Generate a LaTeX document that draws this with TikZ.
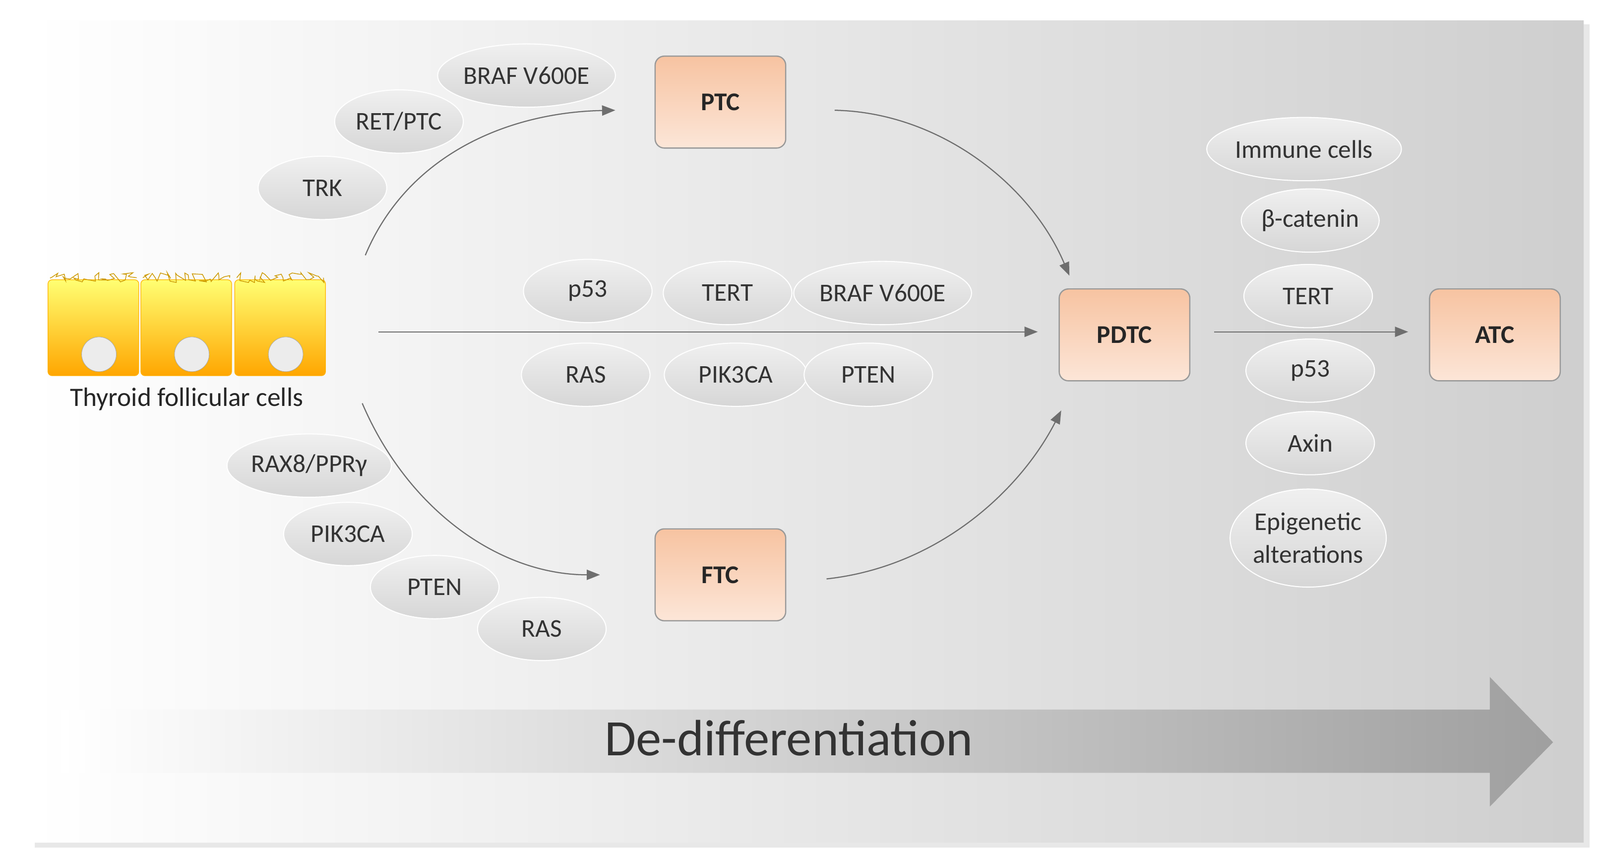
\documentclass[tikz,border=0pt]{standalone}
\usepackage{fontspec}
\setmainfont{Carlito}
\usetikzlibrary{arrows.meta,decorations.pathmorphing,shapes.geometric}
\definecolor{boxA}{HTML}{F7C3A1}
\definecolor{boxB}{HTML}{FCE6D8}
\definecolor{ar}{HTML}{6E6E6E}
\tikzset{
 box/.style={draw=gray!80, line width=1.2pt, rounded corners=9pt, minimum width=128pt, minimum height=90pt, top color=boxA, bottom color=boxB, font=\fontsize{25}{28}\selectfont\bfseries, text=black!85},
 gen/.style={ellipse, draw=white, line width=1pt, minimum width=126pt, minimum height=62pt, inner sep=0pt, top color=gray!12, bottom color=gray!32, font=\fontsize{25}{28}\selectfont, text=black!80},
 arr/.style={draw=ar, line width=1.1pt, -{Triangle[length=13pt,width=10pt]}},
 cell/.style={draw=orange!60!yellow, line width=0.6pt, rounded corners=4pt, top color=yellow!55, bottom color=orange!70!yellow},
}
\begin{document}
\begin{tikzpicture}[x=1pt,y=-1pt]
\useasboundingbox (0,0) rectangle (1568,843);
\fill[white] (0,0) rectangle (1568,843);
\fill[gray!18] (34,24) rectangle (1558,830);
\shade[left color=white, right color=gray!38] (30,20) rectangle (1552,825);
% big arrow
\shade[left color=white, right color=gray!75]
 (60,695) -- (1460,695) -- (1460,663) -- (1522,727) -- (1460,790) -- (1460,757) -- (60,757) -- cycle;
\node (dd) at (773,723) {\fontsize{50}{54}\selectfont\color{black!80}De-differentiation};
% cells
\foreach \x/\n in {47/c1,138/c2,230/c3}{
  \path[cell] (\x,274) rectangle ++(89,94);
  \draw[orange!50!yellow!80!black, line width=0.7pt, decorate, decoration={random steps,segment length=2.5pt,amplitude=5pt}] (\x+2,272) -- ++(85,0);
  \node[circle, draw=gray!70, fill=gray!15, minimum size=34pt, inner sep=0pt] (\n) at (\x+50,347) {};
}
\node[font=\fontsize{26}{30}\selectfont, text=black!85] (tfc) at (183,391) {Thyroid follicular cells};
\coordinate (s1) at (358,250);
\coordinate (s2) at (355,395);
\coordinate (s3) at (371,325);
% boxes
\node[box] (ptc) at (706,100) {PTC};
\node[box] (ftc) at (706,563) {FTC};
\node[box] (pdtc) at (1102,328) {PDTC};
\node[box] (atc) at (1465,328) {ATC};
% ellipses
\node[gen,minimum width=158pt] (e1) at (516,74) {BRAF V600E};
\node[gen] (e2) at (391,119) {RET/PTC};
\node[gen] (e3) at (316,184) {TRK};
\node[gen] (m1) at (576,285) {p53};
\node[gen] (m2) at (713,287) {TERT};
\node[gen,minimum width=158pt] (m3) at (865,287) {BRAF V600E};
\node[gen] (m4) at (574,367) {RAS};
\node[gen,minimum width=140pt] (m5) at (721,367) {PIK3CA};
\node[gen] (m6) at (851,367) {PTEN};
\node[gen] (f1) at (303,456) {RAX8/PPRγ};
\node[gen] (f2) at (341,523) {PIK3CA};
\node[gen] (f3) at (426,575) {PTEN};
\node[gen] (f4) at (531,616) {RAS};
\node[gen,minimum width=172pt] (r1) at (1278,146) {Immune cells};
\node[gen,minimum width=130pt] (r2) at (1284,216) {β-catenin};
\node[gen] (r3) at (1282,290) {TERT};
\node[gen] (r4) at (1284,363) {p53};
\node[gen] (r5) at (1284,434) {Axin};
\node[gen,minimum width=134pt,minimum height=96pt,align=center,font=\fontsize{25}{32}\selectfont] (r6) at (1282,527) {Epigenetic\\alterations};
% arrows
\coordinate (t1) at (603,108);
\coordinate (t2) at (588,563);
\coordinate (t3) at (1017,325);
\draw[arr] (s1) .. controls (400,150) and (500,110) .. (t1);
\draw[arr] (s2) .. controls (400,500) and (490,563) .. (t2);
\draw[arr] (s3) -- (t3);
\coordinate (p1) at (818,108);
\coordinate (p2) at (1048,270);
\coordinate (q1) at (810,567);
\coordinate (q2) at (1040,402);
\draw[arr] (p1) .. controls (920,110) and (1010,180) .. (p2);
\draw[arr] (q1) .. controls (920,555) and (1000,480) .. (q2);
\coordinate (u1) at (1190,325);
\coordinate (u2) at (1380,325);
\draw[arr] (u1) -- (u2);
\end{tikzpicture}
\end{document}
